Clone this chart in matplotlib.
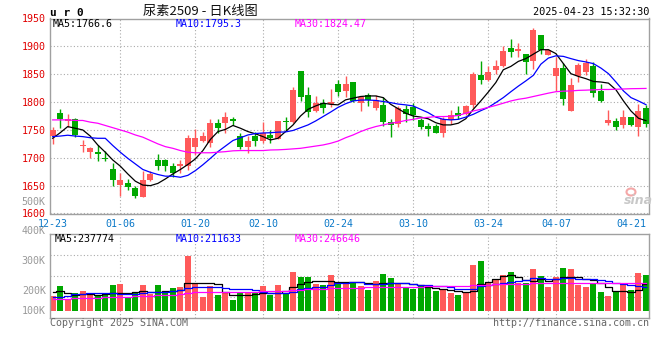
import matplotlib
matplotlib.use('Agg')
import matplotlib.pyplot as plt
from matplotlib.patches import Ellipse

plt.rcParams['font.family'] = ['DejaVu Sans Mono']

# x axis labels (trading day index of each label)
date_labels = ['12-23', '01-06', '01-20', '02-10', '02-24', '03-10', '03-24', '04-07', '04-21']
date_idx = [0, 9, 19, 28, 38, 48, 58, 67, 77]

# daily K line
opens = [1739, 1780, 1766.7, 1769, 1721, 1709.5, 1710.7, 1700, 1680, 1651,
         1655, 1646, 1629, 1659.5, 1696.4, 1696, 1685.7, 1684.5, 1685.7, 1720,
         1731, 1727.4, 1762.5, 1763, 1769.7, 1739.3, 1718.5, 1739.3, 1730, 1741,
         1734.5, 1765.5, 1765, 1855.4, 1812.5, 1784.5, 1797.6, 1796.4, 1832, 1820,
         1835.7, 1797.6, 1812.5, 1790, 1794.6, 1765, 1760.7, 1788, 1791.7, 1768,
         1757, 1757, 1744, 1768, 1780, 1778.6, 1794.6, 1848, 1839, 1857,
         1865, 1896.4, 1891.7, 1885.7, 1873.8, 1920, 1885, 1847, 1862, 1784.5,
         1846.4, 1854, 1864, 1820, 1763, 1766, 1759, 1772.6, 1756, 1790]
highs = [1756, 1787.5, 1778.6, 1771, 1732, 1720, 1723, 1713, 1690.5, 1673,
         1662, 1650, 1675.6, 1675.6, 1707, 1697, 1690.5, 1696.4, 1741, 1751,
         1747, 1769.7, 1769.7, 1782, 1774, 1744, 1739, 1747, 1765, 1750,
         1766.7, 1774, 1827.4, 1855.4, 1827, 1810.7, 1805, 1823, 1839, 1846.4,
         1835.7, 1810.7, 1816.7, 1812.5, 1809.5, 1769.7, 1793, 1794.6, 1798.8, 1771,
         1762, 1760.7, 1774, 1786, 1793, 1794.6, 1854, 1873, 1864, 1875,
         1900, 1914, 1906, 1885.7, 1933, 1921, 1896, 1881, 1870, 1844,
         1870, 1878, 1872, 1832, 1786, 1771, 1786, 1774, 1796, 1794.6]
lows = [1725, 1753, 1756, 1738, 1711, 1699, 1695, 1695, 1650, 1631,
        1643, 1628, 1629, 1657.7, 1677.4, 1675.6, 1665.5, 1673, 1677.4, 1705,
        1729, 1719, 1745, 1745, 1759, 1715, 1708, 1721, 1726, 1727.4,
        1733, 1749, 1763, 1802.4, 1774, 1782.7, 1780, 1790.5, 1811, 1809.5,
        1800.6, 1784.5, 1793.5, 1785.7, 1757, 1737, 1754.8, 1765, 1768, 1751,
        1739.3, 1744, 1738, 1761, 1769, 1777, 1788.7, 1832, 1838, 1850,
        1863, 1881, 1881, 1851, 1860, 1887, 1884, 1820, 1795, 1784.5,
        1836, 1848, 1809.5, 1800.6, 1759, 1749, 1753, 1757, 1739, 1755]
closes = [1750, 1769, 1770, 1741.7, 1723, 1716.7, 1706, 1697, 1659.5, 1659.5,
          1648, 1631, 1660.7, 1670, 1685.7, 1686, 1673, 1688, 1735, 1735,
          1739.3, 1762.5, 1754, 1772.6, 1766, 1719, 1730, 1730, 1744, 1735,
          1766.7, 1764.3, 1821.4, 1809.5, 1782.7, 1799, 1790, 1800.6, 1818.5, 1832,
          1802.4, 1809.5, 1803.6, 1803.6, 1765, 1759, 1788.7, 1778.6, 1777, 1756,
          1752.4, 1745.2, 1769, 1776, 1775, 1793, 1850, 1839, 1854, 1864,
          1891, 1889, 1894.6, 1872, 1930, 1894, 1894, 1862, 1805, 1830,
          1866, 1870, 1815.5, 1802, 1768, 1755, 1772.6, 1759, 1784.5, 1760.7]

ma5 = [1735, 1745, 1756, 1753, 1750, 1739, 1723, 1710, 1696, 1685,
       1671, 1658, 1651, 1650, 1654, 1662, 1671, 1679, 1688, 1698,
       1713, 1733, 1747, 1751, 1758, 1753, 1747, 1743, 1738, 1732,
       1735, 1747, 1759, 1775, 1787, 1793, 1798, 1796, 1795, 1804,
       1807, 1810, 1811, 1811, 1808, 1796, 1788, 1780, 1775, 1773,
       1770, 1763, 1759, 1759, 1762, 1770, 1787, 1802, 1818, 1835,
       1858, 1864, 1873, 1878, 1886, 1894, 1894, 1887, 1869, 1851,
       1846, 1842, 1837, 1836, 1834, 1822, 1802, 1784, 1771, 1766.6]
ma10 = [1738, 1739, 1740.5, 1739, 1738, 1736, 1735, 1735, 1722, 1710,
        1699, 1689, 1679, 1674, 1670, 1667, 1667, 1665, 1668.5, 1677,
        1687.5, 1699, 1711, 1721, 1731, 1736, 1741, 1743.5, 1744.5, 1745,
        1746, 1746.4, 1749, 1754, 1759, 1766, 1774, 1782, 1790.5, 1797,
        1802, 1803.6, 1803.6, 1803, 1801, 1799, 1796.4, 1795, 1793, 1787,
        1781, 1773, 1769, 1768, 1769, 1773, 1778, 1784.5, 1790.5, 1799,
        1808, 1818.5, 1828.6, 1838, 1848, 1868, 1879, 1883, 1882, 1878,
        1874.4, 1872, 1869, 1861, 1851, 1836, 1820, 1808, 1802, 1795.3]
ma30 = [1768, 1768, 1768, 1767, 1767, 1764, 1762, 1758, 1754, 1750,
        1746, 1741, 1737, 1731, 1725, 1720, 1717, 1713, 1710, 1709,
        1709, 1709, 1710, 1711, 1712.5, 1713, 1713, 1713, 1713, 1714,
        1714.3, 1715, 1716, 1717, 1719, 1721, 1723, 1726, 1730, 1736,
        1741, 1747, 1752, 1756, 1759, 1762, 1764, 1767, 1769, 1771.5,
        1772.6, 1774, 1774, 1774.4, 1776, 1780, 1784, 1787, 1790.5, 1794,
        1798, 1802, 1805, 1807, 1810, 1813, 1816, 1818.6, 1819.6, 1820,
        1821, 1821.4, 1822, 1822.6, 1822.6, 1823, 1823.5, 1824, 1824.2, 1824.47]

# volume (thousand lots) and its moving averages
volume = [182, 216, 171, 191, 199, 191, 185, 191, 219, 223,
          178, 191, 219, 189, 219, 191, 208, 211, 317, 227,
          178, 216, 185, 193, 169, 197, 197, 191, 216, 185,
          219, 193, 263, 246, 246, 223, 219, 253, 225, 228,
          228, 216, 202, 233, 256, 243, 225, 213, 206, 219,
          210, 199, 202, 192, 185.5, 195, 286.5, 300, 225, 238,
          252, 263, 225, 225, 273, 249.5, 213, 246, 276, 273,
          219, 213, 222.6, 196, 182, 196, 220, 202, 260, 253]
vma5 = [197, 198, 193, 187, 188, 189, 187, 188, 191, 193,
        193, 196, 198, 196, 197, 199, 199, 201, 225, 226,
        225, 225, 221, 197, 187, 186, 186, 188, 191, 191,
        193, 199, 211, 221, 229, 233, 233, 233, 228, 228,
        229, 229, 225, 222, 225, 225, 226, 226, 222, 219,
        213.6, 208, 204.6, 202, 198, 194.5, 200, 221, 229, 238,
        249.5, 254, 247, 236, 234, 238, 231.6, 238, 247, 247,
        245, 240.5, 236, 225, 211, 200, 199, 194.5, 202, 222.6]
vma10 = [179, 179, 181, 188, 190, 191, 191, 191, 191, 190,
         188, 190, 193, 196, 197, 197, 198, 201, 210, 211,
         211, 212, 212, 210, 207, 206, 204.6, 203.5, 196, 193,
         191, 191, 196, 204.6, 209, 211, 212, 219, 225, 227,
         228, 228, 222.6, 221, 224, 226, 227, 225, 222.6, 220,
         219, 217, 214.7, 211, 207, 204.6, 207, 216, 220, 222.6,
         225, 230, 234, 236, 243, 243, 238, 240.5, 241.6, 241.6,
         240.5, 239, 238, 235, 231.6, 226, 222.6, 219, 214.7, 211.6]
vma30 = [171, 171, 172, 174, 174, 175, 177, 178, 178, 180,
         180, 181, 182, 183, 184, 185.5, 187, 189, 193, 194.5,
         194.5, 194.5, 194.5, 196, 196, 197, 197, 197, 198, 198,
         199, 199, 201, 202, 204.6, 206, 207, 208, 208, 208,
         209, 210, 211, 211, 212, 212, 213.6, 213.6, 213.6, 213.6,
         214.7, 216, 216, 216, 217, 217, 218, 219, 220, 221,
         222.6, 222.6, 224, 224, 225, 225, 225, 226, 226, 227,
         227, 227, 227, 227, 227, 226, 226, 225, 225, 225]

VOL_FLOOR = 131.6  # bars start here
RED = '#ff5a5a'
GREEN = '#00a800'
GRID = dict(color='#aaaaaa', lw=0.8, ls=(0, (1, 2)))
FS = 7.2

W, H = 660, 360
def fx(px):
    return px / W
def fy(py):
    return 1 - py / H

fig = plt.figure(figsize=(6.6, 3.6), dpi=100)
ax = fig.add_axes([fx(50), fy(213.5), fx(649) - fx(50), fy(18.5) - fy(213.5)])
axv = fig.add_axes([fx(50), fy(318.3), fx(649) - fx(50), fy(234.3) - fy(318.3)])

n = len(closes)
xs = list(range(n))
colors = [RED if c >= o else GREEN for o, c in zip(opens, closes)]

# --- price panel
for i in xs:
    ax.vlines(i, lows[i], highs[i], color=colors[i], lw=1.0, zorder=2)
bodies = [max(abs(c - o), 0.9) for o, c in zip(opens, closes)]
bottoms = [min(o, c) for o, c in zip(opens, closes)]
ax.bar(xs, bodies, bottom=bottoms, width=0.8, color=colors, zorder=3)
ax.plot(xs, ma5, color='black', lw=0.9, zorder=4)
ax.plot(xs, ma10, color='#0000ff', lw=0.9, zorder=4)
ax.plot(xs, ma30, color='#ff00ff', lw=0.9, zorder=4)

ax.set_xlim(-0.36, 79.4)
ax.set_ylim(1600, 1950)
ax.set_yticks(range(1600, 1951, 50))
ax.yaxis.grid(True, **GRID)
ax.set_axisbelow(True)
for d in date_idx[1:-1]:
    ax.axvline(d, zorder=0, **GRID)
    axv.axvline(d, zorder=0, **GRID)
ax.set_xticks(date_idx, date_labels)
ax.tick_params(axis='y', length=0, pad=3, labelcolor='#e00000', labelsize=FS)
ax.tick_params(axis='x', length=0, pad=4, labelcolor='#0a78c8', labelsize=FS)

ax.text(0.005, 0.972, 'MA5:1766.6', transform=ax.transAxes, va='center', fontsize=FS, color='black')
ax.text(0.209, 0.972, 'MA10:1795.3', transform=ax.transAxes, va='center', fontsize=FS, color='#0000ff')
ax.text(0.409, 0.972, 'MA30:1824.47', transform=ax.transAxes, va='center', fontsize=FS, color='#ff00ff')

# --- volume panel
axv.bar(xs, [v - VOL_FLOOR for v in volume], bottom=VOL_FLOOR, width=0.8, color=colors, zorder=2)
axv.plot(xs, vma5, color='black', lw=0.9, drawstyle='steps-mid', zorder=3)
axv.plot(xs, vma10, color='#0000ff', lw=0.9, drawstyle='steps-mid', zorder=3)
axv.plot(xs, vma30, color='#ff00ff', lw=0.9, drawstyle='steps-mid', zorder=3)
axv.set_xlim(-0.36, 79.4)
vlo, vhi = 107.1, 389.9
axv.set_ylim(vlo, vhi)
axv.set_yticks([vlo + k * (vhi - vlo) / 4 for k in (1, 2, 3)])
axv.set_yticklabels([])
axv.set_xticks([])
axv.yaxis.grid(True, **GRID)
axv.set_axisbelow(True)
axv.tick_params(length=0)
for val, lab in [(500, '500K'), (400, '400K'), (300, '300K'), (200, '200K'), (VOL_FLOOR, '100K')]:
    axv.text(-0.007, val, lab, transform=axv.get_yaxis_transform(), ha='right', va='center',
             fontsize=FS, color='#999999', clip_on=False)

axv.text(0.008, 0.944, 'MA5:237774', transform=axv.transAxes, va='center', fontsize=FS, color='black')
axv.text(0.209, 0.944, 'MA10:211633', transform=axv.transAxes, va='center', fontsize=FS, color='#0000ff')
axv.text(0.409, 0.944, 'MA30:246646', transform=axv.transAxes, va='center', fontsize=FS, color='#ff00ff')

for a in (ax, axv):
    for s in a.spines.values():
        s.set_color('#a0a0a0')
        s.set_linewidth(1.0)

# --- header / footer
fig.text(fx(50), fy(12.5), 'u r 0', fontsize=8, weight='bold', va='center', ha='left')
fig.text(fx(200), fy(11), '尿素2509 - 日K线图', fontsize=9.5, ha='center', va='center', color='#111111',
         family=['Noto Sans CJK SC', 'DejaVu Sans'])
fig.text(fx(649), fy(12), '2025-04-23 15:32:30', fontsize=7.4, ha='right', va='center', color='black')
fig.text(fx(50), fy(323.5), 'Copyright 2025 SINA.COM', fontsize=FS, ha='left', va='center', color='#666666')
fig.text(fx(649), fy(323.5), 'http://finance.sina.com.cn', fontsize=FS, ha='right', va='center', color='#666666')

# sina watermark
fig.add_artist(Ellipse((fx(631), fy(192)), 9 / W, 7 / H, facecolor='none', edgecolor='#f4a8a8', lw=1.5))
fig.text(fx(638), fy(200), 'sina', fontsize=9, style='italic', weight='bold', ha='center', va='center',
         color='#c8c8c8', family='DejaVu Sans')

fig.savefig('out.png', dpi=100)
